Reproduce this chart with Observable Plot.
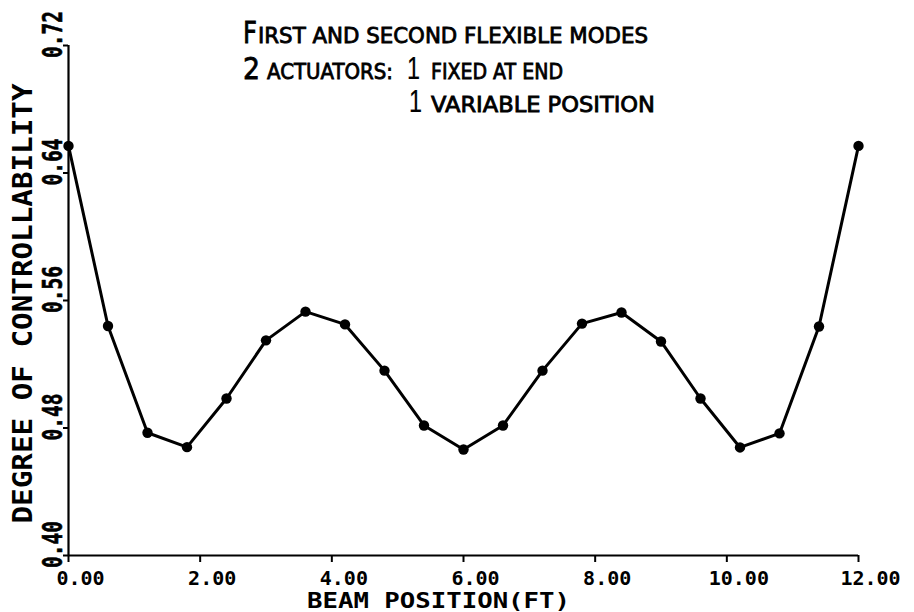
<!DOCTYPE html>
<html>
<head>
<meta charset="utf-8">
<script src="https://cdn.jsdelivr.net/npm/d3@7"></script>
<script src="https://cdn.jsdelivr.net/npm/@observablehq/plot@0.6"></script>
<style>
  html, body { margin: 0; padding: 0; background: white; }
</style>
</head>
<body>
<div id="chart"></div>
<script>
// Data
const beamPosition = [0.0, 0.6, 1.2, 1.8, 2.4, 3.0, 3.6, 4.2, 4.8, 5.4, 6.0, 6.6, 7.2, 7.8, 8.4, 9.0, 9.6, 10.2, 10.8, 11.4, 12.0];
const controllability = [0.657, 0.544, 0.477, 0.468, 0.4985, 0.535, 0.553, 0.545, 0.516, 0.4816, 0.4665, 0.4816, 0.516, 0.5455, 0.5525, 0.5343, 0.4985, 0.4678, 0.4766, 0.5437, 0.657];
const xTicks = [0, 2, 4, 6, 8, 10, 12];
const yTicks = [0.40, 0.48, 0.56, 0.64, 0.72];
const xTitle = "BEAM POSITION(FT)";
const yTitle = "DEGREE OF CONTROLLABILITY";

const data = beamPosition.map((x, i) => ({x, y: controllability[i]}));
const mono = "'DejaVu Sans Mono', monospace";
const yFmt = d => d.toFixed(2);

const chart = Plot.plot({
  width: 914,
  height: 612,
  marginLeft: 68,
  marginRight: 56,
  marginTop: 45,
  marginBottom: 57,
  x: {domain: [0, 12], label: null},
  y: {domain: [0.40, 0.72], label: null},
  style: {fontFamily: mono, background: "white", color: "black"},
  marks: [
    Plot.ruleX([0], {stroke: "black", strokeWidth: 2.2}),
    Plot.ruleY([0.40], {stroke: "black", strokeWidth: 2.2}),
    // tick marks only
    Plot.axisX(xTicks, {tickSize: 7, strokeWidth: 2, fill: "none", label: null}),
    Plot.axisY(yTicks, {tickSize: 5, strokeWidth: 2, fill: "none", label: null}),
    // tick labels
    Plot.axisX(xTicks, {
      tickSize: 0, tickPadding: 15,
      tickFormat: d => d.toFixed(2),
      fontSize: 20, fontWeight: "bold", dx: 12, label: null
    }),
    Plot.text(yTicks, {
      y: d => d, frameAnchor: "left", rotate: -90,
      text: yFmt, textAnchor: "middle", lineAnchor: "middle",
      fontSize: 26, fontWeight: "bold", dx: -15, dy: -11,
      fill: "black", stroke: "black", strokeWidth: 0.6
    }),
    Plot.line(data, {x: "x", y: "y", stroke: "black", strokeWidth: 3}),
    Plot.dot(data, {x: "x", y: "y", symbol: "circle", r: 5.2, fill: "black"}),
    Plot.text([xTitle], {
      text: d => d, frameAnchor: "bottom", textAnchor: "middle", lineAnchor: "bottom", dy: 52, dx: -25,
      fontSize: 21, fontWeight: "bold"
    }),
    Plot.text([yTitle], {
      text: d => d, frameAnchor: "left", textAnchor: "middle", rotate: -90, dx: -45, dy: 3,
      fontSize: 27, fontWeight: "bold"
    })
  ]
});

const svg = d3.select(chart);
// fit the plotter-style lettering to the reference lengths
const yLabelSet = new Set(yTicks.map(yFmt));
svg.selectAll("text").each(function() {
  const t = this.textContent;
  const sel = d3.select(this);
  if (t === xTitle) sel.attr("textLength", 263).attr("lengthAdjust", "spacingAndGlyphs");
  else if (t === yTitle) sel.attr("textLength", 440).attr("lengthAdjust", "spacingAndGlyphs");
  else if (yLabelSet.has(t) && (this.getAttribute("transform") || "").includes("rotate"))
    sel.attr("textLength", 47).attr("lengthAdjust", "spacingAndGlyphs");
});

// Annotation block (mixed-size small caps)
const ann = svg.append("g")
  .attr("text-anchor", "start")
  .attr("fill", "black")
  .attr("stroke", "black");
const sans = "'DejaVu Sans', sans-serif";
const lib = "'Liberation Sans', sans-serif";
const segs = [
  {t: "F", x: 243, y: 43, s: 30, w: 14, sw: 0.8, f: sans},
  {t: "IRST AND SECOND FLEXIBLE MODES", x: 258, y: 43, s: 20.5, w: 390, sw: 0.8, f: sans},
  {t: "2", x: 243, y: 79, s: 30, w: 17, sw: 0.8, f: sans},
  {t: "ACTUATORS:", x: 267, y: 79, s: 20.5, w: 126, sw: 0.8, f: sans},
  {t: "1", x: 407, y: 79, s: 32, w: 13, sw: 0.2, f: lib},
  {t: "FIXED AT END", x: 431, y: 79, s: 20.5, w: 132, sw: 0.8, f: sans},
  {t: "1", x: 409, y: 112, s: 32, w: 13, sw: 0.2, f: lib},
  {t: "VARIABLE POSITION", x: 431, y: 112, s: 20.5, w: 224, sw: 0.8, f: sans}
];
for (const s of segs) {
  ann.append("text")
    .attr("x", s.x).attr("y", s.y)
    .attr("text-anchor", "start")
    .attr("font-family", s.f)
    .attr("font-size", s.s)
    .attr("stroke-width", s.sw)
    .attr("textLength", s.w)
    .attr("lengthAdjust", "spacingAndGlyphs")
    .text(s.t);
}

document.getElementById("chart").appendChild(chart);
</script>
</body>
</html>
